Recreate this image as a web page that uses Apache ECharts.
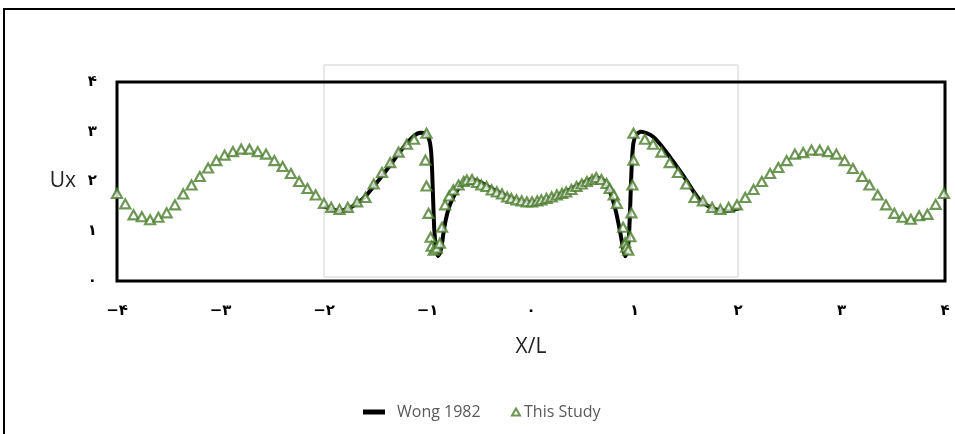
<!DOCTYPE html>
<html>
<head>
<meta charset="utf-8">
<script src="https://cdn.jsdelivr.net/npm/echarts@6/dist/echarts.min.js"></script>
<style>
  html, body { margin: 0; padding: 0; background: #fff; }
  #main { width: 955px; height: 434px; }
</style>
</head>
<body>
<div id="main"></div>
<script>
// tick labels (Persian digits, as in the original)
const xTickLabels = ['−۴','−۳','−۲','−۱','۰','۱','۲','۳','۴'];
const yTickLabels = ['۰','۱','۲','۳','۴'];

// Wong 1982 reference curve
const wongX = [-2.00,-1.92,-1.85,-1.76,-1.68,-1.60,-1.52,-1.44,-1.36,-1.28,-1.20,-1.13,-1.07,-1.02,-0.985,-0.965,-0.955,-0.945,-0.935,-0.92,-0.90,-0.88,-0.86,-0.84,-0.81,-0.78,-0.74,-0.70,-0.64,-0.58,-0.52,-0.45,-0.38,-0.30,-0.22,-0.14,-0.06,0.00,0.06,0.14,0.22,0.30,0.38,0.46,0.54,0.60,0.65,0.70,0.74,0.78,0.82,0.86,0.89,0.91,0.93,0.945,0.955,0.965,0.975,0.99,1.02,1.06,1.12,1.18,1.26,1.34,1.42,1.50,1.57,1.63,1.70,1.76,1.83,1.90,1.96,2.02];
const wongY = [1.50,1.44,1.41,1.46,1.56,1.70,1.90,2.11,2.33,2.56,2.77,2.92,2.98,2.96,2.85,2.60,2.20,1.60,1.05,0.70,0.50,0.56,0.75,1.05,1.35,1.55,1.73,1.86,1.98,2.03,2.01,1.94,1.86,1.77,1.69,1.63,1.59,1.58,1.59,1.62,1.68,1.76,1.84,1.93,2.01,2.06,2.07,2.02,1.90,1.70,1.40,1.00,0.65,0.50,0.58,0.85,1.30,1.90,2.40,2.78,2.95,3.00,2.97,2.90,2.72,2.50,2.27,2.03,1.80,1.63,1.52,1.46,1.42,1.41,1.43,1.47];

// This Study points
const studyX = [-4.00,-3.92,-3.84,-3.76,-3.68,-3.60,-3.52,-3.44,-3.36,-3.28,-3.20,-3.12,-3.04,-2.96,-2.88,-2.80,-2.72,-2.64,-2.56,-2.48,-2.40,-2.32,-2.24,-2.16,-2.08,-2.00,
  -1.93,-1.85,-1.77,-1.68,-1.60,-1.52,-1.44,-1.36,-1.28,-1.20,-1.13,-1.01,-1.02,-1.01,-0.99,-0.97,-0.96,-0.94,-0.91,-0.88,-0.86,-0.83,-0.79,-0.75,-0.70,-0.65,-0.62,-0.57,-0.52,-0.48,-0.43,-0.38,-0.33,-0.28,-0.23,-0.19,-0.14,-0.09,-0.04,
  0.01,0.06,0.10,0.15,0.20,0.25,0.30,0.34,0.39,0.44,0.49,0.54,0.59,0.63,0.68,0.73,0.76,0.80,0.83,0.89,0.91,0.92,0.94,0.96,0.97,0.98,0.99,0.99,1.10,1.18,1.26,1.34,1.42,1.50,1.58,1.66,1.75,1.83,1.91,
  1.99,2.07,2.15,2.23,2.31,2.39,2.47,2.55,2.63,2.71,2.79,2.87,2.95,3.03,3.11,3.20,3.27,3.35,3.43,3.51,3.59,3.67,3.75,3.83,3.91,3.99];
const studyY = [1.76,1.55,1.33,1.29,1.23,1.28,1.37,1.53,1.75,1.93,2.10,2.27,2.42,2.53,2.60,2.65,2.65,2.60,2.55,2.42,2.30,2.16,2.00,1.86,1.73,1.56,
  1.48,1.44,1.48,1.59,1.68,1.95,2.18,2.38,2.59,2.75,2.85,2.97,2.43,1.91,1.36,0.88,0.70,0.62,0.66,0.76,1.08,1.53,1.71,1.83,1.93,2.00,2.03,2.04,1.98,1.93,1.90,1.83,1.79,1.75,1.69,1.66,1.63,1.61,1.59,
  1.59,1.61,1.63,1.66,1.69,1.73,1.76,1.79,1.84,1.90,1.95,2.00,2.04,2.08,2.04,1.96,1.86,1.73,1.56,1.08,0.77,0.68,0.62,0.89,1.37,1.93,2.43,2.97,2.85,2.75,2.59,2.38,2.18,1.95,1.68,1.61,1.48,1.44,1.48,
  1.53,1.68,1.84,2.00,2.16,2.28,2.42,2.55,2.58,2.63,2.63,2.60,2.55,2.42,2.26,2.10,1.93,1.73,1.53,1.36,1.28,1.24,1.31,1.34,1.54,1.76];

const green = '#4a7d2c';
const chart = echarts.init(document.getElementById('main'), null, { renderer: 'canvas' });

const option = {
  animation: false,
  backgroundColor: '#fff',
  grid: { left: 117, right: 10, top: 82, bottom: 153, show: true, borderColor: '#000', borderWidth: 3, backgroundColor: 'transparent' },
  legend: [
    { data: ['Wong 1982'], left: 358, top: 399, icon: 'rect', itemWidth: 22, itemHeight: 5,
      textStyle: { color: '#595959', fontSize: 16, fontFamily: 'Open Sans', padding: [0, 0, 0, 7] } },
    { data: ['This Study'], left: 506, top: 399, itemWidth: 8, itemHeight: 7,
      textStyle: { color: '#595959', fontSize: 16, fontFamily: 'Open Sans', padding: [0, 0, 0, -1] } }
  ],
  xAxis: {
    type: 'value', min: -4, max: 4, interval: 1,
    name: 'X/L', nameLocation: 'middle', nameGap: 56,
    nameTextStyle: { fontSize: 21, color: '#222', fontFamily: 'Open Sans' },
    axisLine: { show: false }, axisTick: { show: false }, splitLine: { show: false },
    axisLabel: { margin: 23, fontSize: 15, fontWeight: 'bold', color: '#000', fontFamily: 'DejaVu Sans',
      formatter: v => xTickLabels[Math.round(v) + 4] }
  },
  yAxis: {
    type: 'value', min: 0, max: 4, interval: 1,
    name: 'Ux', nameLocation: 'middle', nameGap: 41, nameRotate: 0,
    nameTextStyle: { fontSize: 21, color: '#222', fontFamily: 'Open Sans' },
    axisLine: { show: false }, axisTick: { show: false }, splitLine: { show: false },
    axisLabel: { margin: 20, fontSize: 15, fontWeight: 'bold', color: '#000', fontFamily: 'DejaVu Sans',
      formatter: v => yTickLabels[Math.round(v)] }
  },
  series: [
    { name: 'Wong 1982', type: 'line', data: wongX.map((x, i) => [x, wongY[i]]),
      showSymbol: false, symbol: 'none', smooth: 0.2, clip: false,
      lineStyle: { color: '#000', width: 4 }, itemStyle: { color: '#000' }, z: 2 },
    { name: 'This Study', type: 'scatter', data: studyX.map((x, i) => [x, studyY[i]]),
      symbol: 'triangle', symbolSize: [10, 9], clip: false,
      itemStyle: { color: '#fff', borderColor: green, borderWidth: 2.2 }, z: 3 }
  ]
};
chart.setOption(option);

// light frame of the pasted inner image (x from -2 to 2) and the outer chart frame
const xa = chart.convertToPixel({ xAxisIndex: 0 }, -2);
const xb = chart.convertToPixel({ xAxisIndex: 0 }, 2);
chart.setOption({
  graphic: [
    { type: 'rect', z: -1, silent: true, shape: { x: xa, y: 65, width: xb - xa, height: 212 },
      style: { fill: 'none', stroke: '#d0d0d0', lineWidth: 1 } },
    { type: 'rect', z: 10, silent: true, shape: { x: 4, y: 9, width: 1000, height: 500 },
      style: { fill: 'none', stroke: '#000', lineWidth: 2 } }
  ]
});
</script>
</body>
</html>
